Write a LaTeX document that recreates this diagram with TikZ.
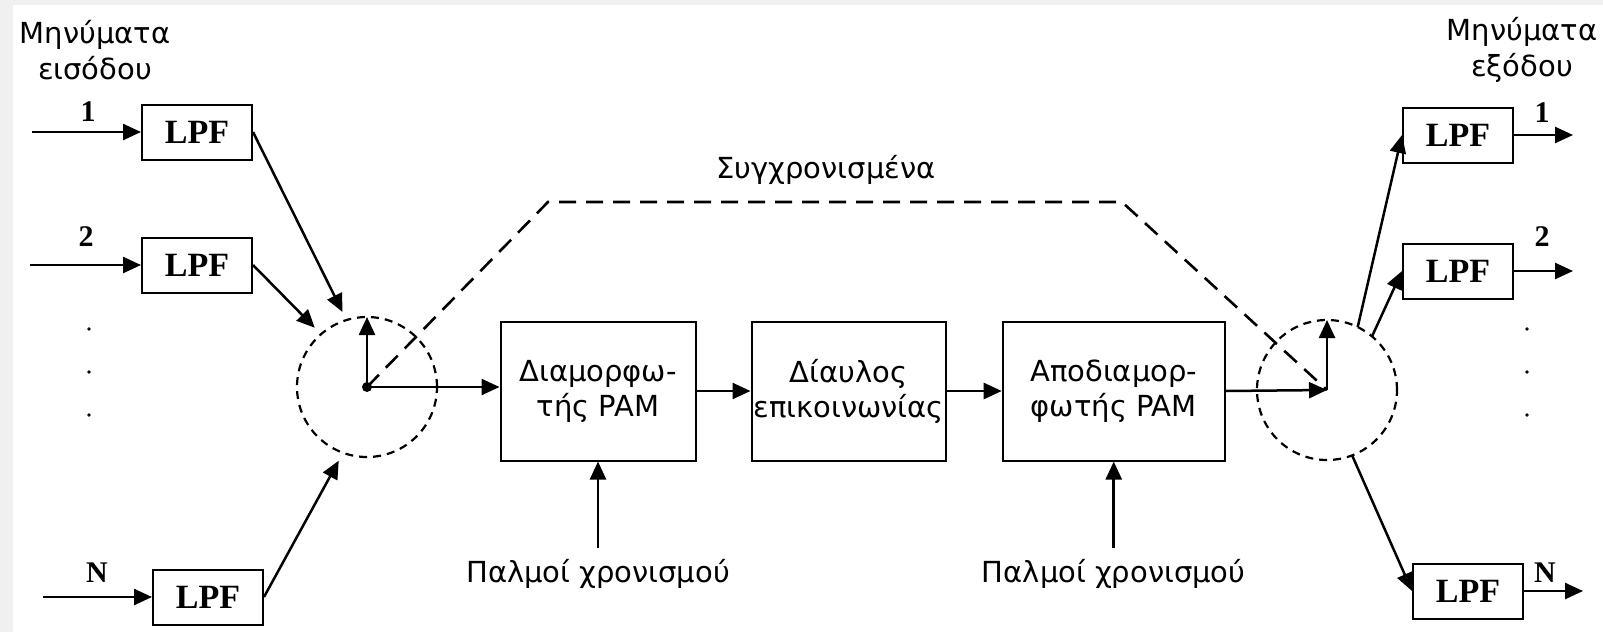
\documentclass[tikz,border=0pt]{standalone}
\usepackage{fontspec}
\setmainfont{Liberation Serif}
\newfontfamily\greekfont{DejaVu Sans}
\usetikzlibrary{
    arrows.meta,
    positioning
}
\tikzstyle{block} = [
    rectangle,
    draw,
    line width=2pt,
    minimum height=139pt,
    inner sep=2pt,
    align=center,
    font=\greekfont\fontsize{29}{35}\selectfont
]
\tikzstyle{lpf} = [
    rectangle,
    draw,
    line width=2pt,
    minimum width=110pt,
    minimum height=55pt,
    font=\bfseries\fontsize{34}{40}\selectfont
]
\tikzstyle{greek} = [
    align=center,
    font=\greekfont\fontsize{29}{36}\selectfont
]
\tikzstyle{num} = [
    inner sep=0pt,
    font=\bfseries\fontsize{30}{34}\selectfont
]
\tikzstyle{sampler} = [
    circle,
    draw,
    minimum size=140pt,
    line width=2.2pt,
    dash pattern=on 8pt off 6pt,
    outer sep=0pt
]
\tikzstyle{arrow} = [
    -{Triangle[length=18pt, width=16pt]},
    line width=2.5pt
]
\tikzstyle{sync} = [
    line width=2.6pt,
    dash pattern=on 17pt off 10pt
]

\begin{document}
\begin{tikzpicture}[x=1pt, y=-1pt]
    % Frame
    \useasboundingbox (0,0) rectangle (1603,632);
    \fill[gray!12] (0,0) rectangle (1603,632);
    \fill[white] (13,5) rectangle (1603,632);

    % Main chain
    \node[block, minimum width=195pt] (mod) at (598,391) {Διαμορφω-\\τής PAM};
    \node[block, minimum width=194pt, right=54pt of mod] (chan) {Δίαυλος\\επικοινωνίας};
    \node[block, minimum width=222pt, right=55pt of chan] (demod) {Αποδιαμορ-\\φωτής PAM};

    % Switches
    \node[sampler] (mux) at (367,387) {};
    \node[sampler] (demux) at (1327,390) {};

    % Input filters
    \node[lpf] (lpfA) at (197,132) {LPF};
    \node[lpf] (lpfB) at (197,265) {LPF};
    \node[lpf] (lpfN) at (208,597) {LPF};
    \coordinate (inA) at (32,132);
    \coordinate (inB) at (30,265);
    \coordinate (inN) at (43,597);

    % Output filters
    \node[lpf] (outA) at (1458,135) {LPF};
    \node[lpf] (outB) at (1458,271) {LPF};
    \node[lpf] (outN) at (1468,591) {LPF};
    \coordinate (endA) at (1573,135);
    \coordinate (endB) at (1573,271);
    \coordinate (endN) at (1583,591);

    % Sync corners
    \coordinate (syncL) at (548,202);
    \coordinate (syncR) at (1122,202);

    % Labels
    \node[greek] (inlbl) at (95,50) {Μηνύματα\\εισόδου};
    \node[greek] (outlbl) at (1522,50) {Μηνύματα\\εξόδου};
    \node[greek] (synclbl) at (826,170) {Συγχρονισμένα};
    \node[greek, below=94pt of mod] (clkA) {Παλμοί χρονισμού};
    \node[greek, below=94pt of demod] (clkB) {Παλμοί χρονισμού};
    \node[num] (numA) at (88,112) {1};
    \node[num] (numB) at (86,237) {2};
    \node[num] (numN) at (97,573) {N};
    \node[num] (numoA) at (1542,113) {1};
    \node[num] (numoB) at (1542,237) {2};
    \node[num] (numoN) at (1545,573) {N};
    \foreach \y in {329,372,415} {
        \fill (89,\y) circle[radius=1.8pt];
        \fill (1527,\y) circle[radius=1.8pt];
    }

    % Arrows in
    \draw[arrow] (inA) -- (lpfA);
    \draw[arrow] (inB) -- (lpfB);
    \draw[arrow] (inN) -- (lpfN);
    \draw[arrow, shorten >=9pt] (lpfA.east) -- (mux.107);
    \draw[arrow, shorten >=9pt] (lpfB.east) -- (mux.131);
    \draw[arrow, shorten >=9pt] (lpfN.east) -- (mux.250);

    % Main line
    \fill (mux.center) circle[radius=5pt];
    \draw[arrow] (mux.center) -- (mux.north);
    \draw[arrow] (mux.center) -- (mux.center -| mod.west);
    \draw[arrow] (mod) -- (chan);
    \draw[arrow] (chan) -- (demod);
    \draw[arrow] (demod.east) -- (demux.center);
    \draw[arrow] (demux.center) -- (demux.north);
    \draw[arrow, shorten <=8pt] (clkA) -- (mod);
    \draw[arrow, shorten <=8pt] (clkB) -- (demod);
    \draw[sync] (mux.center) -- (syncL) -- (syncR) -- (demux.center);

    % Arrows out
    \draw[arrow] (demux.64) -- (outA.west);
    \draw[arrow] (demux.50) -- (outB.west);
    \draw[arrow] (demux.291) -- (outN.west);
    \draw[arrow] (outA) -- (endA);
    \draw[arrow] (outB) -- (endB);
    \draw[arrow] (outN) -- (endN);
\end{tikzpicture}
\end{document}
